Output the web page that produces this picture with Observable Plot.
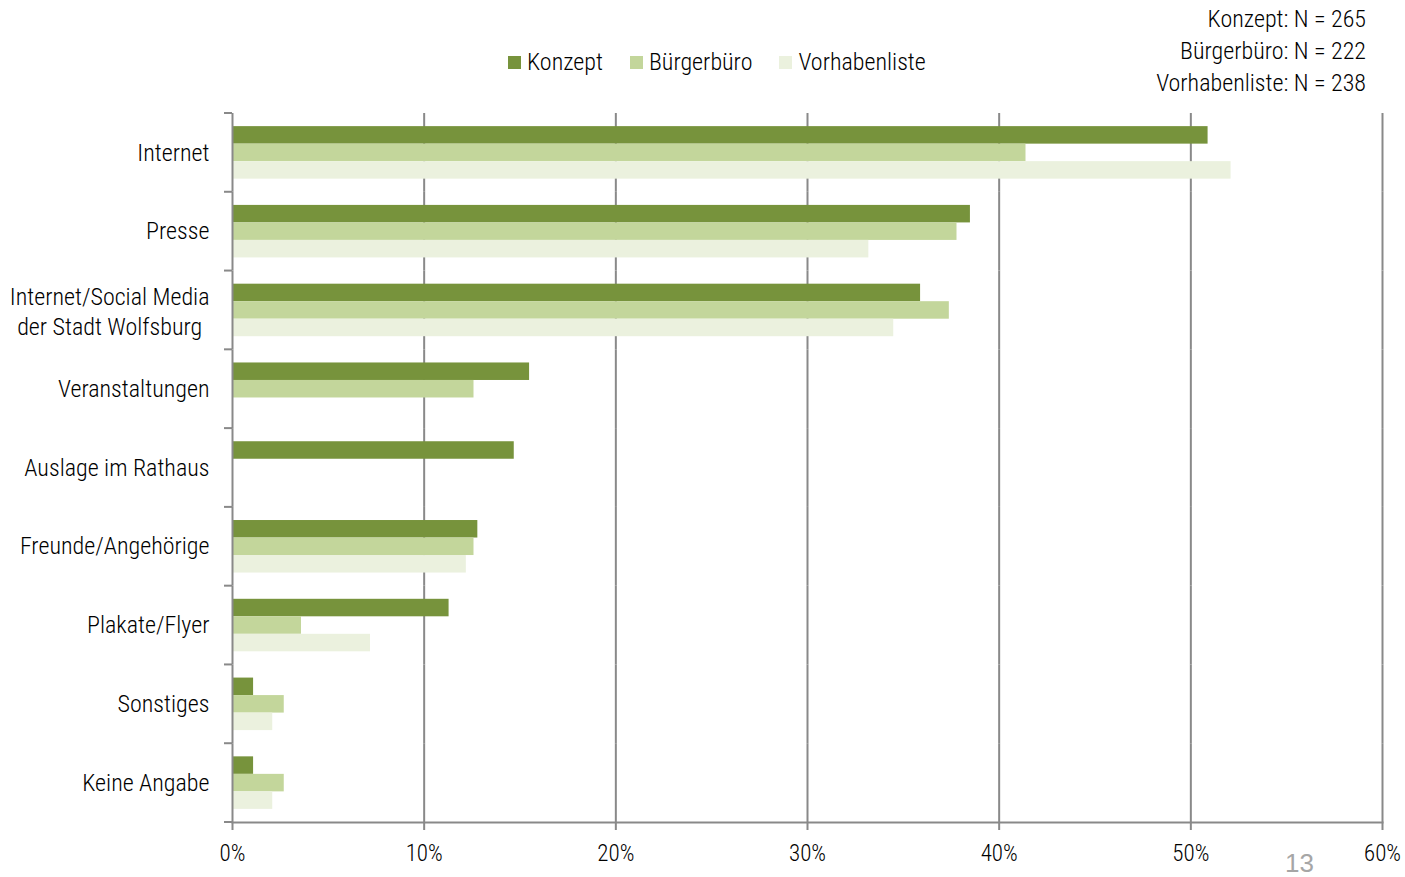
<!DOCTYPE html>
<html>
<head>
<meta charset="utf-8">
<script src="https://cdn.jsdelivr.net/npm/d3@7"></script>
<script src="https://cdn.jsdelivr.net/npm/@observablehq/plot@0.6"></script>
<style>
  html, body { margin: 0; padding: 0; background: #fff; }
  body { width: 1405px; height: 877px; position: relative; overflow: hidden;
         font-family: "Liberation Sans Narrow", "Roboto Condensed", "DejaVu Sans Condensed", "Arial Narrow", sans-serif; font-weight: 300; color: #000; }
  #header { position: relative; width: 1405px; height: 111px; }
  #legend { position: absolute; left: 508px; top: 46px; display: flex; align-items: center; font-size: 24px; line-height: 32px; }
  #legend .item { display: flex; align-items: center; margin-right: 27px; }
  #legend .sw { width: 13px; height: 13px; margin-right: 6px; }
  #nlist { position: absolute; right: 39px; top: 3px; text-align: right; font-size: 24px; line-height: 32px; }
  #chart svg { display: block; }
  #page { position: absolute; left: 1285px; top: 848px; font-family: "Liberation Sans", "Noto Sans", sans-serif; font-weight: 400; font-size: 26px; color: #a6a6a6; }
</style>
</head>
<body>
<div id="header">
  <div id="legend"></div>
  <div id="nlist"></div>
</div>
<div id="chart"></div>
<div id="page">13</div>
<script>
// ---- data ----
const categories = [
  "Internet",
  "Presse",
  "Internet/Social Media\nder Stadt Wolfsburg",
  "Veranstaltungen",
  "Auslage im Rathaus",
  "Freunde/Angehörige",
  "Plakate/Flyer",
  "Sonstiges",
  "Keine Angabe"
];
const series = ["Konzept", "Bürgerbüro", "Vorhabenliste"];
const konzept       = [50.9, 38.5, 35.9, 15.5, 14.7, 12.8, 11.3, 1.1, 1.1];
const buergerbuero  = [41.4, 37.8, 37.4, 12.6, null, 12.6, 3.6, 2.7, 2.7];
const vorhabenliste = [52.1, 33.2, 34.5, null, null, 12.2, 7.2, 2.1, 2.1];
const sampleSizes = [265, 222, 238];
const xTicks = [0, 10, 20, 30, 40, 50, 60];
const colors = ["#77933c", "#c3d69b", "#ebf1de"];

const FONT = '"Liberation Sans Narrow", "Roboto Condensed", "DejaVu Sans Condensed", "Arial Narrow", sans-serif';
const gridColor = "#898989";
const labelSize = 24;

// ---- table ----
const valuesBySeries = [konzept, buergerbuero, vorhabenliste];
const rows = [];
categories.forEach((c, i) => {
  series.forEach((s, j) => {
    const v = valuesBySeries[j][i];
    if (v != null) rows.push({category: c, series: s, value: v});
  });
});

// ---- header: legend + N ----
const legend = d3.select("#legend");
series.forEach((s, j) => {
  const it = legend.append("div").attr("class", "item");
  it.append("div").attr("class", "sw").style("background", colors[j]);
  it.append("span").text(s);
});
const nlist = d3.select("#nlist");
series.forEach((s, j) => nlist.append("div").text(`${s}: N = ${sampleSizes[j]}`));

// measure widest line of multi-line labels for centred alignment
const ctx = document.createElement("canvas").getContext("2d");
ctx.font = `300 ${labelSize}px ${FONT}`;
const single = categories.filter(c => !c.includes("\n"));
const multi = categories.filter(c => c.includes("\n"));
const labelGap = 23;

const marks = [
  Plot.gridX(xTicks.filter(d => d > 0), {stroke: gridColor, strokeWidth: 2, strokeOpacity: 1}),
  Plot.barX(rows, {x: "value", y: "series", fy: "category", fill: "series"}),
  Plot.ruleX([0], {stroke: gridColor, strokeWidth: 2}),
  Plot.frame({anchor: "bottom", facetAnchor: "bottom", stroke: gridColor, strokeWidth: 2}),
  Plot.axisX({ticks: xTicks, tickFormat: d => d + "%", tickSize: 8, tickPadding: 14, label: null,
              stroke: gridColor, strokeWidth: 2, fill: "#000", fontSize: 23, fontWeight: 300, anchor: "bottom"}),
  Plot.text(single, {fy: d => d, text: d => d, frameAnchor: "left", dx: -labelGap,
                     textAnchor: "end", fontSize: labelSize, fontWeight: 300, fill: "#000"})
];
multi.forEach(c => {
  const w = Math.max(...c.split("\n").map(l => ctx.measureText(l).width));
  marks.push(Plot.text([c], {fy: d => d, text: d => d, frameAnchor: "left", dx: -labelGap - w / 2,
                              textAnchor: "middle", lineHeight: 1.25, fontSize: labelSize, fontWeight: 300, fill: "#000"}));
});

const chart = Plot.plot({
  width: 1405,
  height: 766,
  marginTop: 2,
  marginBottom: 55,
  marginLeft: 232,
  marginRight: 23,
  style: {fontFamily: FONT, fontSize: "23px", fontWeight: 300, color: "#000", background: "#fff", overflow: "visible"},
  x: {domain: [0, 60], axis: null},
  fy: {domain: categories, padding: 0, round: false, axis: null},
  y: {domain: series, paddingInner: 0, paddingOuter: 0.75, round: false, axis: null},
  color: {domain: series, range: colors},
  marks
});
document.getElementById("chart").appendChild(chart);

// category boundary tick marks on the y axis (from the fy scale)
const fy = chart.scale("fy");
const xs = chart.scale("x");
const x0 = xs.apply(0);
const bounds = categories.map(c => fy.apply(c)).concat([fy.apply(categories[categories.length - 1]) + fy.bandwidth]);
d3.select(chart).append("g")
  .attr("stroke", gridColor).attr("stroke-width", 2)
  .selectAll("line").data(bounds).join("line")
  .attr("x1", x0 - 8).attr("x2", x0)
  .attr("y1", d => d).attr("y2", d => d);
</script>
</body>
</html>
